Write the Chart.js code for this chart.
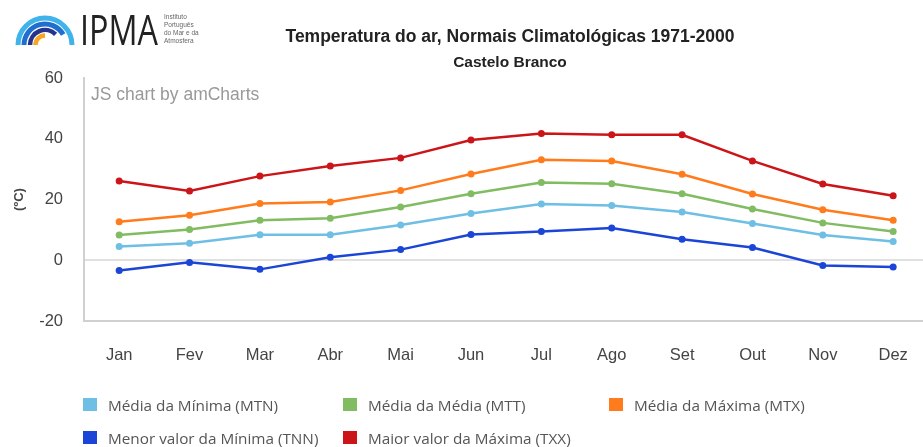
<!DOCTYPE html>
<html>
<head>
<meta charset="utf-8">
<script src="https://cdn.jsdelivr.net/npm/chart.js@4.4.0/dist/chart.umd.min.js"></script>
<style>
  html, body { margin: 0; padding: 0; background: #fff; overflow: hidden; }
  #wrap { position: relative; width: 923px; height: 447px; overflow: hidden; font-family: "Liberation Sans", Arial, sans-serif; }
  #box { position: absolute; left: 0; top: 0; width: 933px; height: 447px; }
  #logo { position: absolute; left: 0; top: 0; }
  .title { position: absolute; text-align: center; font-weight: bold; color: #222; white-space: nowrap; }
  #t1 { top: 26px; font-size: 17.5px; left: 260px; width: 500px; }
  #t2 { top: 53px; font-size: 15.5px; left: 360px; width: 300px; }
  #credit { position: absolute; left: 91px; top: 84px; font-size: 17.5px; color: #999; }
  #legend { position: absolute; left: 83px; top: 397px; font-family: "Open Sans", sans-serif; font-size: 15.3px; color: #555; }
  .item { position: absolute; white-space: nowrap; height: 16px; line-height: 16px; }
  .item span.sw { position: absolute; left: 0; top: 1px; width: 14px; height: 13px; }
  .item span.tx { position: absolute; left: 25px; top: 0; }
</style>
</head>
<body>
<div id="wrap">
  <div id="box"><canvas id="chart"></canvas></div>
  <svg id="logo" width="220" height="60">
    <path d="M18,45 A27,27 0 0 1 72,45" fill="none" stroke="#3fb3ea" stroke-width="5"/>
    <path d="M24,45 A21,21 0 0 1 63.2,34.5" fill="none" stroke="#1f6fcf" stroke-width="5"/>
    <path d="M30,45 A15,15 0 0 1 55.6,34.4" fill="none" stroke="#27348f" stroke-width="4.5"/>
    <path d="M35.5,45 A9.5,9.5 0 0 1 45,35.5" fill="none" stroke="#f5a623" stroke-width="4.5"/>
    <text x="80" y="45" font-family="Open Sans, Liberation Sans" font-size="42" font-weight="400" fill="#222" textLength="78" lengthAdjust="spacingAndGlyphs">IPMA</text>
    <text font-family="Liberation Sans, Arial" font-size="6.5" fill="#666">
      <tspan x="164" y="19">Instituto</tspan>
      <tspan x="164" y="27">Português</tspan>
      <tspan x="164" y="35">do Mar e da</tspan>
      <tspan x="164" y="43">Atmosfera</tspan>
    </text>
  </svg>
  <div class="title" id="t1">Temperatura do ar, Normais Climatológicas 1971-2000</div>
  <div class="title" id="t2">Castelo Branco</div>
  <div id="credit">JS chart by amCharts</div>
  <div id="legend"></div>
</div>
<script>
const months = ['Jan', 'Fev', 'Mar', 'Abr', 'Mai', 'Jun', 'Jul', 'Ago', 'Set', 'Out', 'Nov', 'Dez'];

const mtn = [4.5, 5.6, 8.4, 8.4, 11.6, 15.4, 18.5, 18.0, 15.9, 12.1, 8.3, 6.2];
const mtt = [8.3, 10.1, 13.2, 13.8, 17.5, 21.9, 25.6, 25.2, 21.9, 16.9, 12.3, 9.5];
const mtx = [12.7, 14.8, 18.7, 19.2, 23.0, 28.4, 33.1, 32.7, 28.3, 21.8, 16.6, 13.2];
const tnn = [-3.4, -0.7, -3.0, 1.0, 3.5, 8.5, 9.5, 10.6, 6.9, 4.2, -1.7, -2.2];
const txx = [26.1, 22.8, 27.7, 31.0, 33.7, 39.6, 41.7, 41.3, 41.3, 32.7, 25.1, 21.2];

const yTicks = [-20, 0, 20, 40, 60];

const series = [
  { label: 'Média da Mínima (MTN)', data: mtn, color: '#6fbfe5' },
  { label: 'Média da Média (MTT)', data: mtt, color: '#82bc62' },
  { label: 'Média da Máxima (MTX)', data: mtx, color: '#ff7b1c' },
  { label: 'Menor valor da Mínima (TNN)', data: tnn, color: '#1a45d6' },
  { label: 'Maior valor da Máxima (TXX)', data: txx, color: '#cc1519' }
];

const ctx = document.getElementById('chart');

var myChart = new Chart(ctx, {
  type: 'line',
  data: {
    labels: months,
    datasets: series.map(s => ({
      label: s.label,
      data: s.data,
      borderColor: s.color,
      backgroundColor: s.color,
      borderWidth: 2.5,
      pointRadius: 3.5,
      pointBorderWidth: 0,
      tension: 0
    }))
  },
  options: {
    responsive: true,
    maintainAspectRatio: false,
    animation: false,
    layout: { padding: { top: 78, right: 1, bottom: 0, left: 0 } },
    plugins: {
      legend: { display: false },
      tooltip: { enabled: false }
    },
    scales: {
      x: {
        offset: true,
        grid: { display: false, drawTicks: false },
        border: { display: true, color: '#d0d0d0', width: 2 },
        ticks: { color: '#444', font: { size: 16.5, family: 'Liberation Sans' }, padding: 25 },
        afterFit: s => { s.height = 126; }
      },
      y: {
        min: -20,
        max: 60,
        afterBuildTicks: s => { s.ticks = yTicks.map(v => ({ value: v })); },
        grid: {
          drawTicks: false,
          color: c => (c.tick && c.tick.value === 0) ? '#e0e0e0' : 'rgba(0,0,0,0)',
          lineWidth: 2
        },
        border: { display: true, color: '#d0d0d0', width: 2 },
        ticks: { color: '#444', font: { size: 16.5, family: 'Liberation Sans' }, padding: 21 },
        title: {
          display: true,
          text: '(ºC)',
          color: '#444',
          font: { size: 13, weight: 'bold', family: 'Liberation Sans' },
          padding: { top: 12, bottom: 0 }
        },
        afterFit: s => { s.width = 84; }
      }
    }
  }
});

// legend laid out in columns like the original
const legendPos = [[0, 0], [260, 0], [526, 0], [0, 33], [260, 33]];
const legend = document.getElementById('legend');
series.forEach((s, i) => {
  const it = document.createElement('div');
  it.className = 'item';
  it.style.left = legendPos[i][0] + 'px';
  it.style.top = legendPos[i][1] + 'px';
  it.innerHTML = '<span class="sw" style="background:' + s.color + '"></span><span class="tx">' + s.label + '</span>';
  legend.appendChild(it);
});
</script>
</body>
</html>
